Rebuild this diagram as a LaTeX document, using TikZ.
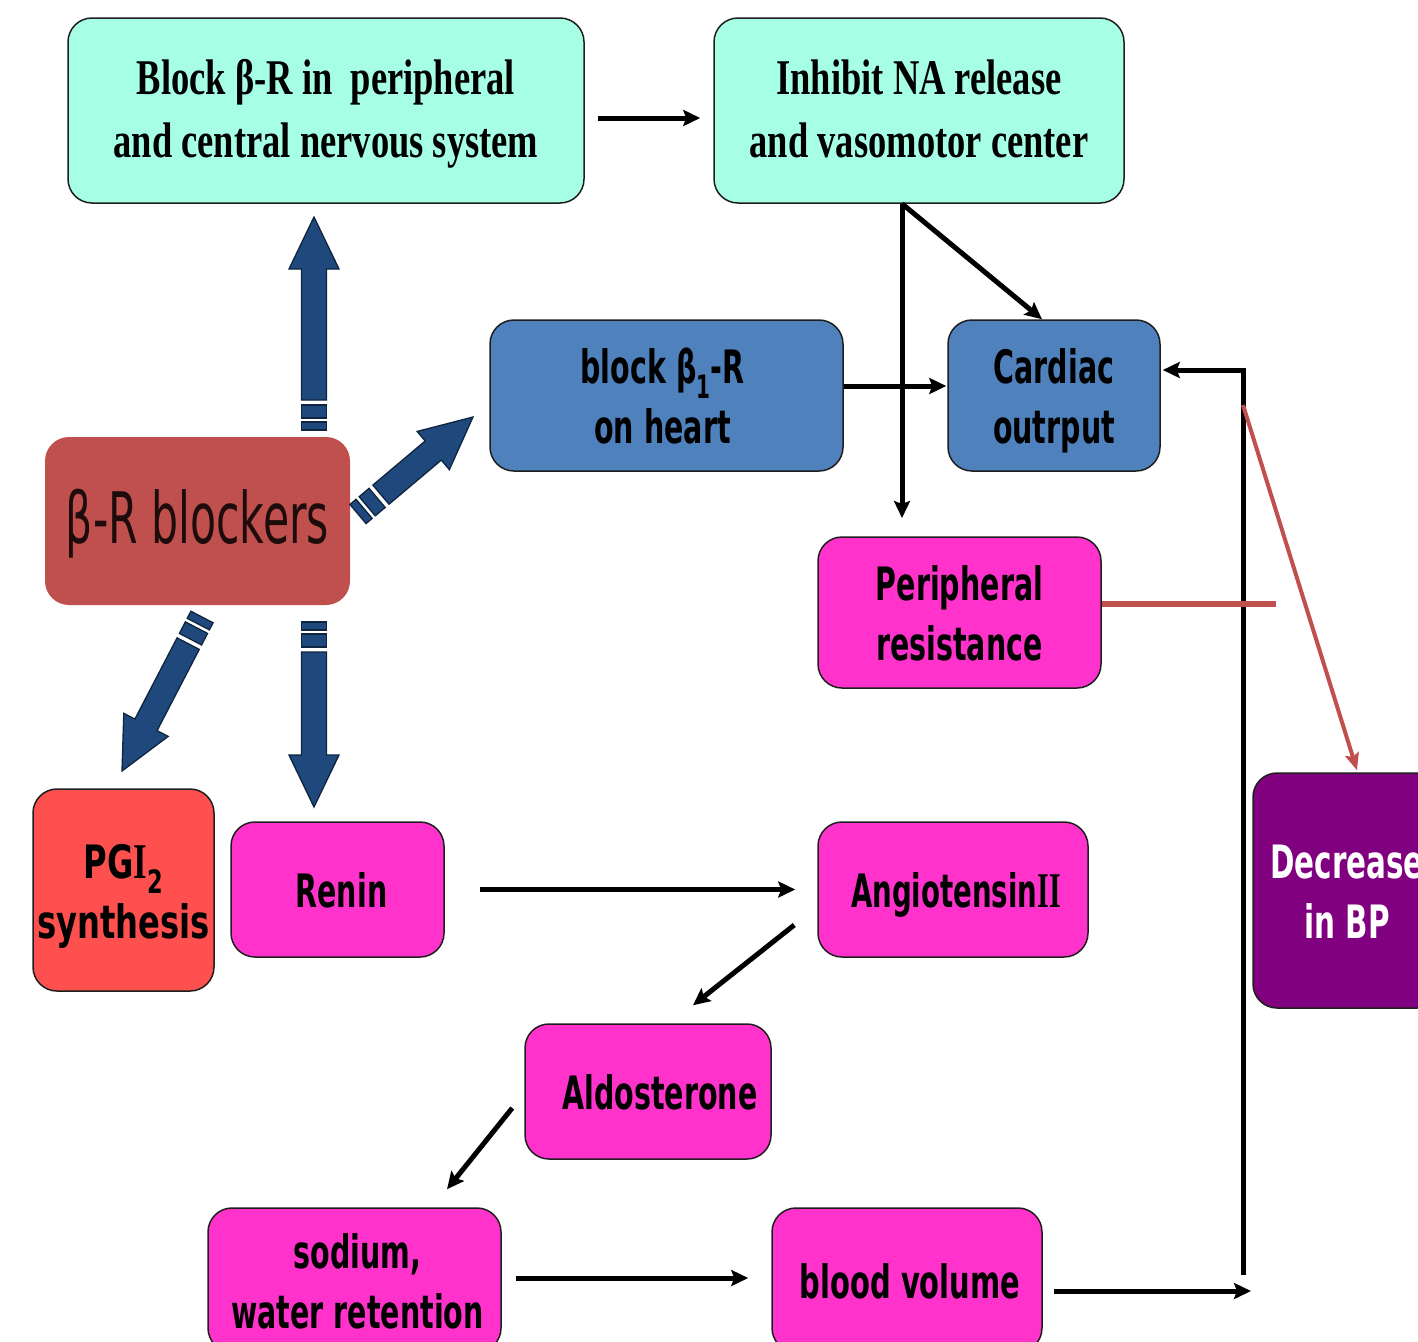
\documentclass[tikz,border=0pt]{standalone}
\usepackage{fontspec}
\usepackage{graphicx}
\setmainfont{Liberation Serif}
\newfontfamily\sansf{DejaVu Sans}
\usetikzlibrary{arrows.meta,calc}
\definecolor{cyanbox}{RGB}{166,255,228}
\definecolor{blockred}{RGB}{192,80,77}
\definecolor{blueb}{RGB}{79,129,189}
\definecolor{magb}{RGB}{255,51,204}
\definecolor{pgired}{RGB}{255,80,80}
\definecolor{purpb}{RGB}{128,0,128}
\definecolor{fatfill}{RGB}{31,73,125}
\definecolor{fatline}{RGB}{15,36,62}
\definecolor{boxline}{RGB}{30,30,30}
\newcommand\sqz[3][6pt]{\raisebox{-#1}[\height][\depth]{\scalebox{#2}[1]{\begin{tabular}{@{}c@{}}#3\end{tabular}}}}
\newcommand\serb{\bfseries\fontsize{50}{63}\selectfont}
\newcommand\sanb{\sansf\bfseries\fontsize{46}{60}\selectfont}
\newcommand\serI{{\rmfamily\bfseries\fontsize{50}{60}\selectfont I}}
\newcommand\fatarrow[2]{%
  \path let \p1=(#1), \p2=(#2), \n1={atan2(\y2-\y1,\x2-\x1)}, \n2={veclen(\x2-\x1,\y2-\y1)} in
    \pgfextra{\xdef\faA{\n1}\xdef\faL{\n2}};
  \begin{scope}[shift={(#1)}, rotate=\faA, x=1pt, y=1pt]
    \filldraw[fatarrowstyle] (0,-12.5) rectangle (8,12.5);
    \filldraw[fatarrowstyle] (12,-12.5) rectangle (25,12.5);
    \filldraw[fatarrowstyle] (30,-12.5) -- ({\faL-52},-12.5) -- ({\faL-52},-25) -- (\faL,0)
      -- ({\faL-52},25) -- ({\faL-52},12.5) -- (30,12.5) -- cycle;
  \end{scope}}
\begin{document}
\begin{tikzpicture}[x=1pt, y=-1pt,
  box/.style={draw=boxline, line width=1.5pt, rounded corners=24pt, inner sep=0pt, align=center, font=\sanb},
  conn/.style={line width=5pt, -{Stealth[length=17pt,width=16pt,inset=3pt]}},
  redconn/.style={line width=6pt, draw=blockred},
  fatarrowstyle/.style={fill=fatfill, draw=fatline, line width=1.3pt}]
\useasboundingbox (0,0) rectangle (1418,1341);
\clip (0,0) rectangle (1418,1341);

% boxes
\node[box, fill=cyanbox, minimum width=516pt, minimum height=185pt, font=\serb] (topL) at (326,110.5)
  {\sqz[3pt]{0.73}{Block β-R in~ peripheral\\and central nervous system}};
\node[box, fill=cyanbox, minimum width=410pt, minimum height=185pt, font=\serb] (topR) at (919,110.5)
  {\sqz[3pt]{0.73}{Inhibit NA release\\and vasomotor center}};
\node[box, draw=none, fill=blockred, minimum width=305pt, minimum height=168pt,
  font=\sansf\fontsize{71}{80}\selectfont, text=black!85!blockred] (blk) at (197.5,521)
  {\sqz[6pt]{0.60}{β-R blockers}};
\node[box, fill=blueb, minimum width=353pt, minimum height=151pt] (beta1) at (666.5,395.5)
  {\hspace*{-8pt}\sqz{0.62}{block β\textsubscript{1}-R\\on heart}};
\node[box, fill=blueb, minimum width=212pt, minimum height=151pt] (card) at (1054,395.5)
  {\sqz{0.62}{Cardiac\\outrput}};
\node[box, fill=magb, minimum width=283pt, minimum height=151pt] (peri) at (959.5,612.5)
  {\sqz{0.62}{Peripheral\\resistance}};
\node[box, fill=pgired, minimum width=181pt, minimum height=202pt] (pgi) at (123.5,890)
  {\sqz{0.70}{PG\serI\textsubscript{2}\\synthesis}};
\node[box, fill=magb, minimum width=213pt, minimum height=135pt] (renin) at (337.5,889.5)
  {\hspace*{8pt}\sqz{0.62}{Renin}};
\node[box, fill=magb, minimum width=270pt, minimum height=135pt] (ang) at (953,889.5)
  {\hspace*{6pt}\sqz{0.6}{Angiotensin\serI\serI}};
\node[box, fill=magb, minimum width=246pt, minimum height=135pt] (aldo) at (648,1091.5)
  {\hspace*{24pt}\sqz{0.62}{Aldosterone}};
\node[box, fill=magb, minimum width=293pt, minimum height=144pt] (sod) at (354.5,1280)
  {\hspace*{6pt}\sqz{0.62}{sodium,\\water retention}};
\node[box, fill=magb, minimum width=270pt, minimum height=144pt] (blood) at (907,1280)
  {\hspace*{6pt}\sqz{0.63}{blood volume}};
\node[box, fill=purpb, text=white, minimum width=188pt, minimum height=235pt] (dec) at (1347,890.5)
  {\sqz{0.64}{Decrease\\in BP}};

% free-end coordinates
\coordinate (split) at ([xshift=-17pt]topR.south);
\coordinate (vend) at (902,518);
\coordinate (fbend) at (1251,1291);
\coordinate (fbbot) at (1243,1275);
\coordinate (fbtop) at (1243,370);
\coordinate (redend) at (1276,604);
\coordinate (rstart) at (1243,405);

% black connectors
\draw[conn] ([xshift=13pt,yshift=-7.5pt]topL.east) -- ([xshift=-13pt,yshift=-7.5pt]topR.west);
\draw[conn] (split) -- (vend);
\draw[conn] (split) -- ([xshift=-12pt]card.north);
\draw[conn] ([yshift=9.5pt]beta1.east) -- ([xshift=-1pt,yshift=9.5pt]card.west);
\draw[conn] ([xshift=35pt]renin.east) -- ([xshift=-22pt]ang.west);
\draw[conn] ([xshift=-23pt,yshift=-35.5pt]ang.west) -- ([xshift=45pt,yshift=18pt]aldo.north);
\draw[conn] ([xshift=-12pt,yshift=-16.5pt]aldo.west) -- ([xshift=92.5pt,yshift=18pt]sod.north);
\draw[conn] ([xshift=14pt,yshift=2pt]sod.east) -- ([xshift=-23pt,yshift=2pt]blood.west);
\draw[conn] ([xshift=11pt,yshift=-11pt]blood.east) -- (fbend);
\draw[conn, line join=miter] (fbbot) -- (fbtop) -- ([xshift=2pt,yshift=25.5pt]card.east);

% red connectors
\draw[redconn] ([yshift=8.5pt]peri.east) -- (redend);
\draw[redconn, line width=4pt, -{Stealth[length=17pt,width=14pt,inset=3pt]}] (rstart) -- ([xshift=10pt,yshift=2pt]dec.north);

% fat arrows
\coordinate (upT) at (314,430);   \coordinate (upH) at (314,217);
\coordinate (ruT) at (358,514);   \coordinate (ruH) at (473,417);
\coordinate (dlT) at (202,617);   \coordinate (dlH) at (122,771);
\coordinate (dnT) at (314,622);   \coordinate (dnH) at (314,807);
\fatarrow{upT}{upH}
\fatarrow{ruT}{ruH}
\fatarrow{dlT}{dlH}
\fatarrow{dnT}{dnH}
\end{tikzpicture}
\end{document}
